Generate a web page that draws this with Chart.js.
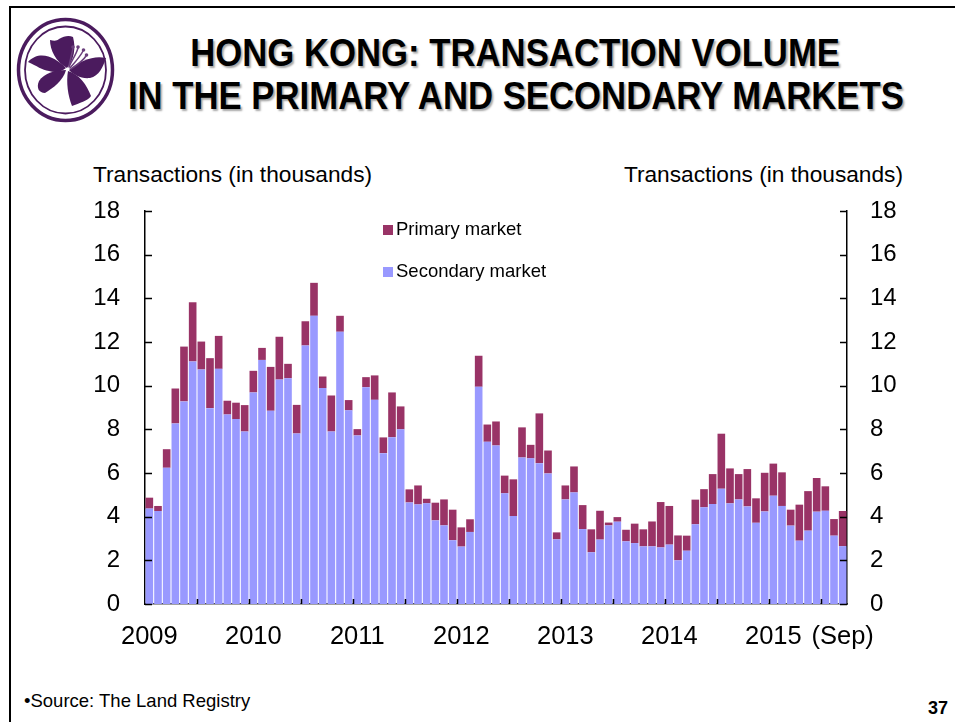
<!DOCTYPE html>
<html>
<head>
<meta charset="utf-8">
<script src="https://cdn.jsdelivr.net/npm/chart.js@4.4.1/dist/chart.umd.min.js"></script>
<style>
  html, body { margin:0; padding:0; background:#fff; }
  body { width:955px; height:722px; position:relative; overflow:hidden; font-family:"Liberation Sans", Arial, sans-serif; }
  #c { position:absolute; left:0; top:0; }
  .frameL { position:absolute; left:9px; top:6px; width:2px; height:716px; background:#000; }
  .frameT { position:absolute; left:9px; top:6px; width:946px; height:2px; background:#000; }
  .title { position:absolute; left:38px; width:955px; text-align:center; font-weight:bold; font-size:39px; line-height:39px; color:#000;
           text-shadow:2px 2px 2px rgba(0,0,0,0.35); }
  .title span { display:inline-block; transform:scaleX(0.89); transform-origin:center; white-space:nowrap; }
  .axt { position:absolute; font-size:22.7px; line-height:22px; color:#000; white-space:nowrap; }
  .src { position:absolute; left:24px; top:691px; font-size:18.5px; line-height:20px; color:#000; }
  .pg { position:absolute; left:928px; top:699px; font-size:18px; line-height:18px; font-weight:bold; color:#000; }
  #logo { position:absolute; left:10px; top:10px; width:120px; height:120px; }
</style>
</head>
<body>
<div class="frameL"></div><div class="frameT"></div>
<svg id="logo" viewBox="0 0 120 120">
  <ellipse cx="55.5" cy="60" rx="47" ry="50.5" fill="none" stroke="#4b1b5e" stroke-width="3.5"/>
  <ellipse cx="55.5" cy="60" rx="40.5" ry="43.5" fill="none" stroke="#4b1b5e" stroke-width="1.8"/>
  <g fill="#4b1b5e">
    <path d="M57,58 C46,52 40,40 40,30 C44,31 47,31 49,29 C54,26 59,25 63,27 C66,38 64,50 57,58 Z"/>
    <path d="M56,58 C46,48 30,39 18,52 C27,56 32,60 39,61 C45,63 51,62 56,58 Z"/>
    <path d="M56,60 C46,60 34,63 29,71 C26,78 29,83 35,83 C43,78 53,71 56,60 Z"/>
    <path d="M58,61 C56,72 58,86 62,96 C69,93 78,91 81,86 C77,75 69,64 58,61 Z"/>
    <path d="M59,60 C70,50 85,45 96,48 C93,57 89,66 80,68 C71,69 64,65 59,60 Z"/>
  </g>
  <g fill="none" stroke="#6a3f7c" stroke-width="1.5" stroke-linecap="round">
    <path d="M59,57 C62,50 66,45 68,38"/>
    <path d="M60,58 C65,52 70,47 73,41"/>
    <path d="M61,59 C67,55 73,51 76,46"/>
    <path d="M59,56 C60,50 62,44 63,38"/>
  </g>
  <g fill="#6a3f7c">
    <circle cx="68" cy="37" r="1.8"/><circle cx="73.5" cy="40" r="1.8"/><circle cx="76.5" cy="45" r="1.8"/><circle cx="63" cy="37" r="1.8"/>
  </g>
</svg>
<div class="title" style="top:33px"><span>HONG KONG: TRANSACTION VOLUME</span></div>
<div class="title" style="top:76px"><span>IN THE PRIMARY AND SECONDARY MARKETS</span></div>
<div class="axt" style="left:93px; top:163px">Transactions (in thousands)</div>
<div class="axt" style="right:52px; top:163px">Transactions (in thousands)</div>
<div class="src">•Source: The Land Registry</div>
<div class="pg">37</div>
<canvas id="c" width="955" height="722"></canvas>
<script>
// ---- data (thousands of transactions), monthly Jan 2009 – Sep 2015 ----
const YEARS = ['2009','2010','2011','2012','2013','2014','2015'];
const MONTHS = ['Jan','Feb','Mar','Apr','May','Jun','Jul','Aug','Sep','Oct','Nov','Dec'];
const END_LABEL = '(Sep)';
const categories = [];
YEARS.forEach(y => MONTHS.forEach(m => { if (categories.length < 81) categories.push(m + ' ' + y); }));

const secondaryMarket = [
  4.37,4.26,6.24,8.27,9.28,11.11,10.74,8.97,10.77,8.68,8.47,7.90,
  9.69,11.18,8.85,10.28,10.34,7.81,11.84,13.20,9.89,7.90,12.47,8.87,
  7.72,9.93,9.35,6.91,7.64,8.00,4.65,4.56,4.61,3.83,3.60,2.92,
  2.63,3.30,9.95,7.43,7.26,5.07,4.03,6.71,6.67,6.45,5.98,2.96,
  4.79,5.11,3.43,2.37,2.95,3.60,3.77,2.87,2.79,2.64,2.64,2.59,
  2.72,2.00,2.44,3.65,4.43,4.58,5.28,4.61,4.79,4.47,3.72,4.24,
  4.96,4.49,3.59,2.90,3.36,4.23,4.27,3.13,2.65
];
const primaryMarket = [
  0.50,0.23,0.85,1.60,2.51,2.71,1.28,2.29,1.51,0.63,0.75,1.21,
  0.99,0.55,2.01,1.96,0.66,1.31,1.11,1.51,0.53,1.65,0.73,0.47,
  0.29,0.46,1.12,0.72,2.05,1.05,0.60,0.87,0.21,0.81,1.19,1.40,
  0.88,0.58,1.42,0.79,1.10,0.81,1.68,1.38,0.62,2.28,1.05,0.32,
  0.64,1.19,1.10,1.05,1.32,0.13,0.21,0.53,0.89,0.78,1.14,2.08,
  1.77,1.14,0.69,1.13,0.83,1.37,2.52,1.60,1.16,1.71,1.12,1.77,
  1.47,1.54,0.73,1.65,1.81,1.54,1.12,0.76,1.61
];
const yTicks = [0,2,4,6,8,10,12,14,16,18];

const FONT = '"Liberation Sans", Arial, sans-serif';
const C_SEC = '#9999FF';
const C_PRI = '#993366';

// inward tick marks, drawn through the chart's scales
const tickPlugin = {
  id: 'inwardTicks',
  afterDatasetsDraw(chart) {
    const ctx = chart.ctx, x = chart.scales.x, y = chart.scales.y, y2 = chart.scales.y2;
    ctx.save();
    ctx.strokeStyle = '#000';
    ctx.lineWidth = 1.5;
    ctx.beginPath();
    yTicks.forEach(v => {
      const py = Math.round(y.getPixelForValue(v)) + 0.5;
      ctx.moveTo(chart.chartArea.left, py); ctx.lineTo(chart.chartArea.left + 7, py);
      const py2 = Math.round(y2.getPixelForValue(v)) + 0.5;
      ctx.moveTo(chart.chartArea.right, py2); ctx.lineTo(chart.chartArea.right - 7, py2);
    });
    for (let i = 6; i < categories.length; i += 6) {
      const px = Math.round(x.getPixelForValue(i - 0.5)) + 0.5;
      ctx.moveTo(px, chart.chartArea.bottom); ctx.lineTo(px, chart.chartArea.bottom - 5);
    }
    ctx.stroke();
    ctx.restore();
  }
};

// legend drawn inside the plot area
const legendPlugin = {
  id: 'insideLegend',
  afterDraw(chart) {
    const ctx = chart.ctx, a = chart.chartArea;
    const items = [chart.data.datasets[1], chart.data.datasets[0]];
    ctx.save();
    ctx.font = '18.5px ' + FONT;
    ctx.textBaseline = 'middle';
    ctx.fillStyle = '#000';
    items.forEach((ds, i) => {
      const cy = a.top + 19 + i * 42;
      ctx.fillStyle = ds.backgroundColor;
      ctx.fillRect(a.left + 238, cy - 5, 10, 10);
      ctx.fillStyle = '#000';
      ctx.fillText(ds.label, a.left + 251, cy);
    });
    ctx.restore();
  }
};

new Chart(document.getElementById('c'), {
  type: 'bar',
  data: {
    labels: categories,
    datasets: [
      { label: 'Secondary market', data: secondaryMarket, backgroundColor: C_SEC, borderWidth: 0, barPercentage: 0.88, categoryPercentage: 1, yAxisID: 'y' },
      { label: 'Primary market', data: primaryMarket, backgroundColor: C_PRI, borderWidth: 0, barPercentage: 0.88, categoryPercentage: 1, yAxisID: 'y' }
    ]
  },
  options: {
    responsive: false,
    animation: false,
    devicePixelRatio: 1,
    layout: { padding: { top: 211, left: 0, right: 0, bottom: 0 } },
    plugins: { legend: { display: false }, tooltip: { enabled: false } },
    scales: {
      x: {
        stacked: true,
        grid: { display: false, drawTicks: false },
        border: { display: true, color: '#444', width: 1.5 },
        ticks: {
          autoSkip: false, maxRotation: 0, minRotation: 0, padding: 18,
          color: '#000', font: { family: FONT, size: 25.5 },
          callback: (v, i) => (i % 12 === 0 ? YEARS[i / 12] : (i === categories.length - 1 ? END_LABEL : ''))
        },
        afterFit: s => { s.height = 118; }
      },
      y: {
        position: 'left', stacked: true, min: 0, max: 18,
        grid: { display: false, drawTicks: false },
        border: { display: true, color: '#000', width: 1.5 },
        ticks: { stepSize: 2, padding: 25, color: '#000', font: { family: FONT, size: 24 } },
        afterFit: s => { s.width = 145; }
      },
      y2: {
        position: 'right', min: 0, max: 18,
        grid: { display: false, drawTicks: false },
        border: { display: true, color: '#000', width: 1.5 },
        ticks: { stepSize: 2, padding: 23, color: '#000', font: { family: FONT, size: 24 } },
        afterFit: s => { s.width = 108; }
      }
    }
  },
  plugins: [tickPlugin, legendPlugin]
});
</script>
</body>
</html>
